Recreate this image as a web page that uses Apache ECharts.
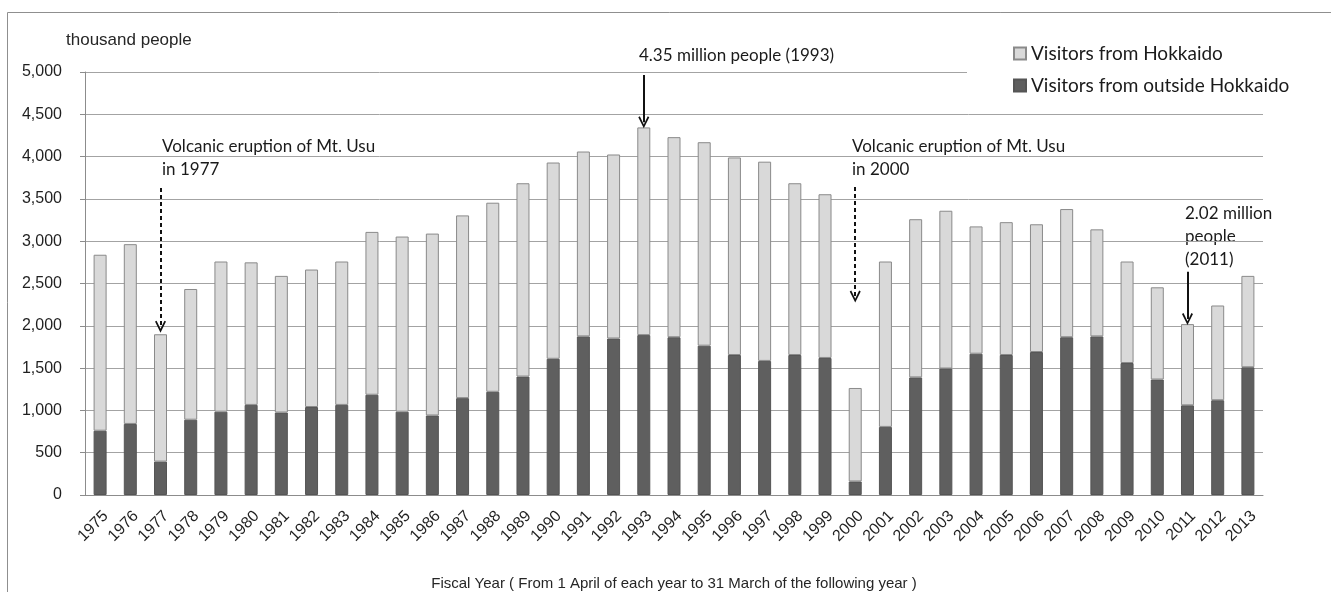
<!DOCTYPE html>
<html>
<head>
<meta charset="utf-8">
<script src="https://cdn.jsdelivr.net/npm/echarts@6/dist/echarts.min.js"></script>
<style>
  html, body { margin: 0; padding: 0; background: #fff; }
  #main { width: 1331px; height: 592px; }
</style>
</head>
<body>
<div id="main"></div>
<script>
// fiscal years
var years = ['1975','1976','1977','1978','1979','1980','1981','1982','1983','1984',
  '1985','1986','1987','1988','1989','1990','1991','1992','1993','1994',
  '1995','1996','1997','1998','1999','2000','2001','2002','2003','2004',
  '2005','2006','2007','2008','2009','2010','2011','2012','2013'];

// thousand people
var outsideHokkaido = [760, 840, 395, 890, 985, 1065, 975, 1040, 1065, 1185,
  985, 940, 1145, 1220, 1400, 1610, 1875, 1850, 1890, 1865,
  1765, 1655, 1585, 1655, 1620, 160, 805, 1390, 1495, 1670,
  1655, 1690, 1865, 1875, 1560, 1365, 1060, 1120, 1510];

var fromHokkaido = [2080, 2125, 1505, 1545, 1775, 1685, 1615, 1625, 1695, 1925,
  2070, 2150, 2160, 2235, 2285, 2320, 2185, 2175, 2455, 2365,
  2405, 2335, 2355, 2030, 1935, 1105, 1955, 1870, 1865, 1505,
  1570, 1510, 1515, 1265, 1200, 1090, 960, 1120, 1080];

var yTicks = [0, 500, 1000, 1500, 2000, 2500, 3000, 3500, 4000, 4500, 5000];

// arrows: [year, from, to, dashed]
var arrows = [
  ['1977', 3630, 1990, true],
  ['1993', 4965, 4405, false],
  ['2000', 3640, 2345, true],
  ['2011', 2640, 2080, false]
];

var chart = echarts.init(document.getElementById('main'));

var axisFont = 'Liberation Sans, Arial, sans-serif';
var noteFont = 'Lato, sans-serif';
var arrowHead = 'path://M0,10 L5,0 L10,10 L8.6,10.8 L5,3.4 L1.4,10.8 Z';

var arrowLines = arrows.map(function (a) {
  return [
    { coord: [a[0], a[1]], lineStyle: { type: a[3] ? [4, 3] : 'solid' } },
    { coord: [a[0], a[2]] }
  ];
});

function note(x, y, lines) {
  return {
    type: 'text',
    left: x,
    top: y,
    style: {
      text: lines.join('\n'),
      font: '17px ' + noteFont,
      fill: '#1a1a1a',
      lineHeight: 23
    }
  };
}

var option = {
  animation: false,
  backgroundColor: '#fff',
  grid: { left: 85, right: 68, top: 72, bottom: 97, containLabel: false, outerBoundsMode: 'none' },
  legend: {
    data: ['Visitors from Hokkaido', 'Visitors from outside Hokkaido'],
    orient: 'vertical',
    left: 967,
    top: 35,
    padding: [9, 20, 9, 46],
    backgroundColor: '#fff',
    itemWidth: 12,
    itemHeight: 12,
    itemGap: 13,
    icon: 'rect',
    textStyle: { fontFamily: noteFont, fontSize: 19, color: '#1a1a1a' }
  },
  xAxis: {
    type: 'category',
    data: years,
    name: 'Fiscal Year ( From 1 April of each year to 31 March of the following year )',
    nameLocation: 'middle',
    nameGap: 81,
    nameTextStyle: { fontFamily: axisFont, fontSize: 15, color: '#262626' },
    axisLine: { lineStyle: { color: '#8c8c8c' } },
    axisTick: { length: 5, lineStyle: { color: '#8c8c8c' } },
    axisLabel: {
      interval: 0, rotate: 45, margin: 13, verticalAlign: 'top',
      fontFamily: axisFont, fontSize: 16, color: '#1f1f1f'
    }
  },
  yAxis: {
    type: 'value',
    min: yTicks[0],
    max: yTicks[yTicks.length - 1],
    interval: 500,
    axisLine: { show: true, lineStyle: { color: '#8c8c8c' } },
    axisTick: { show: true, length: 5, lineStyle: { color: '#8c8c8c' } },
    axisLabel: {
      margin: 23,
      fontFamily: axisFont,
      fontSize: 16,
      color: '#1f1f1f',
      formatter: function (v) { return String(v).replace(/\B(?=(\d{3})+(?!\d))/g, ','); }
    },
    splitLine: { lineStyle: { color: '#a3a3a3' } }
  },
  series: [
    {
      name: 'Visitors from outside Hokkaido',
      type: 'bar',
      stack: 'all',
      barWidth: 13,
      data: outsideHokkaido,
      itemStyle: { color: '#5f5f5f', borderColor: '#555', borderWidth: 1 }
    },
    {
      name: 'Visitors from Hokkaido',
      type: 'bar',
      stack: 'all',
      barWidth: 13,
      data: fromHokkaido,
      itemStyle: { color: '#d9d9d9', borderColor: '#8a8a8a', borderWidth: 1 },
      markLine: {
        silent: true,
        symbol: ['none', arrowHead],
        symbolSize: [11, 12],
        label: { show: false },
        lineStyle: { color: '#111', width: 2, type: 'solid' },
        data: arrowLines
      }
    }
  ],
  graphic: [
    {
      type: 'rect',
      shape: { x: 7.5, y: 12.5, width: 1400, height: 700 },
      style: { fill: 'none', stroke: '#8f8f8f', lineWidth: 1 },
      silent: true
    },
    {
      type: 'text',
      left: 66,
      top: 32,
      style: { text: 'thousand people', font: '17px ' + axisFont, fill: '#262626' }
    },
    note(162, 135, ['Volcanic eruption of Mt. Usu', 'in 1977']),
    note(639, 44, ['4.35 million people (1993)']),
    note(852, 135, ['Volcanic eruption of Mt. Usu', 'in 2000']),
    note(1185, 202, ['2.02 million', 'people', '(2011)'])
  ]
};

chart.setOption(option);
</script>
</body>
</html>
